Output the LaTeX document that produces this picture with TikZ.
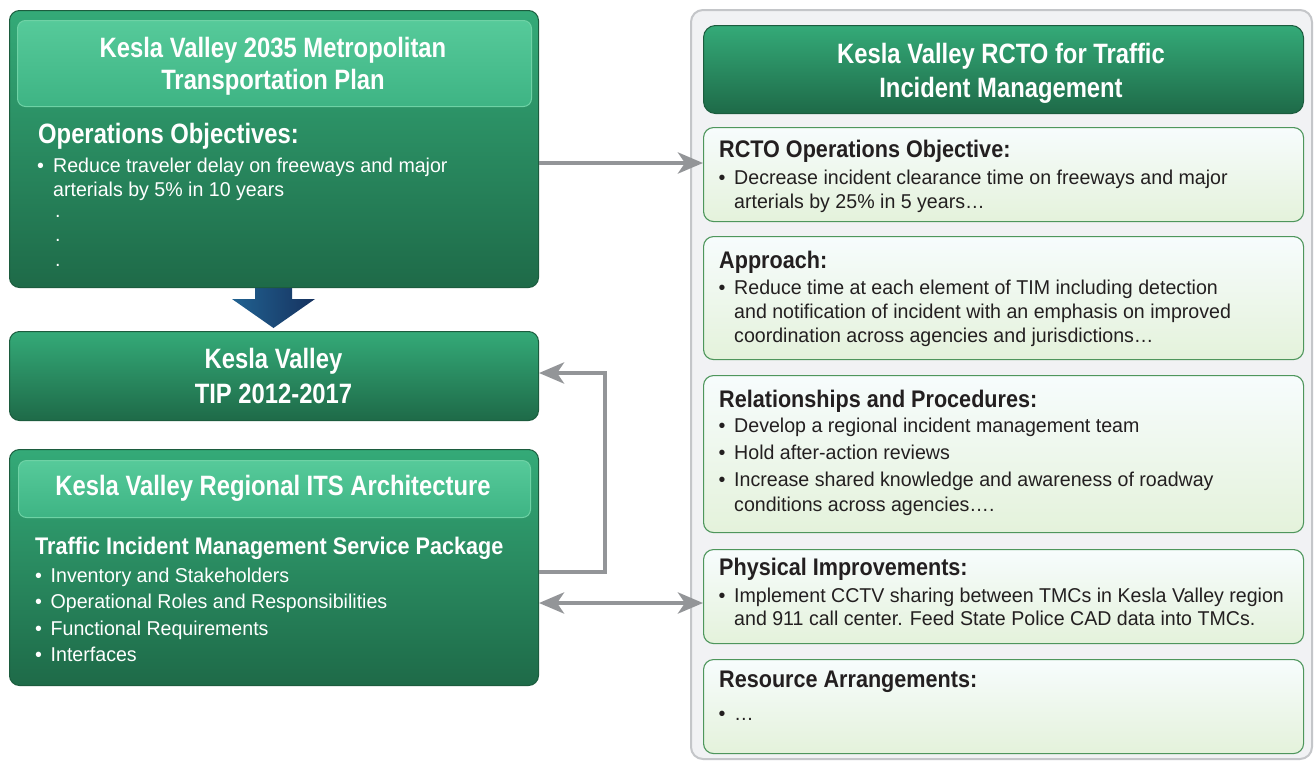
\documentclass[tikz,border=0pt]{standalone}
\usepackage{fontspec}
\setmainfont{Liberation Sans}
\newfontfamily\fA{Liberation Sans}[FakeStretch=0.85]
\newfontfamily\fB{Liberation Sans}[FakeStretch=0.9]
\newfontfamily\fC{Liberation Sans}[FakeStretch=0.98]
\usetikzlibrary{arrows.meta}
\definecolor{gtop}{RGB}{52,170,120}
\definecolor{gbot}{RGB}{30,106,72}
\definecolor{gline}{RGB}{28,92,62}
\definecolor{htop}{RGB}{86,202,154}
\definecolor{hbot}{RGB}{62,180,132}
\definecolor{hline}{RGB}{110,210,165}
\definecolor{ltop}{RGB}{247,252,253}
\definecolor{lbot}{RGB}{228,242,219}
\definecolor{lline}{RGB}{78,150,92}
\definecolor{pfill}{RGB}{241,242,244}
\definecolor{pline}{RGB}{196,198,201}
\definecolor{agray}{RGB}{147,149,152}
\definecolor{bleft}{RGB}{33,98,145}
\definecolor{bright}{RGB}{22,50,95}
\definecolor{ink}{RGB}{35,31,32}
\tikzset{
  dbox/.style={draw=gline, line width=1pt, rounded corners=10pt, top color=gtop, bottom color=gbot, anchor=north west, inner sep=0pt},
  hbox/.style={draw=hline, line width=1pt, rounded corners=8pt, top color=htop, bottom color=hbot, anchor=north west, inner sep=0pt},
  lbox/.style={draw=lline, line width=1.1pt, rounded corners=10pt, top color=ltop, bottom color=lbot, anchor=north west, inner sep=0pt},
  ttl/.style={font=\fA\bfseries\fontsize{28}{34}\selectfont, text=white, inner sep=0pt, anchor=base},
  whead/.style={font=\fB\bfseries\fontsize{24}{28}\selectfont, text=white, inner sep=0pt, anchor=base west},
  bhead/.style={font=\fB\bfseries\fontsize{24}{28}\selectfont, text=ink, inner sep=0pt, anchor=base west},
  wbody/.style={font=\fC\fontsize{20}{24}\selectfont, text=white, inner sep=0pt, anchor=base west},
  bbody/.style={font=\fC\fontsize{20}{24}\selectfont, text=ink, inner sep=0pt, anchor=base west},
  garrow/.style={draw=agray, line width=4.5pt, line join=miter, -{Stealth[length=25pt,width=21pt,inset=7pt]}},
  gdarrow/.style={draw=agray, line width=4.5pt, {Stealth[length=25pt,width=21pt,inset=7pt]}-{Stealth[length=25pt,width=21pt,inset=7pt]}}
}
\begin{document}
\begin{tikzpicture}[x=1pt,y=-1pt]
\useasboundingbox[fill=white] (0,0) rectangle (1314,761);

% right panel
\node[draw=pline, line width=2pt, fill=pfill, rounded corners=12pt, anchor=north west, inner sep=0pt,
      minimum width=621pt, minimum height=749pt] (panel) at (690,9) {};

% blue block arrow
\shade[left color=bleft, right color=bright] (255,283) -- (292,283) -- (292,299) -- (315,299) -- (273.5,328) -- (232,299) -- (255,299) -- cycle;

% left boxes
\node[dbox, minimum width=529pt, minimum height=277pt] (mtp) at (9,10) {};
\node[hbox, minimum width=514pt, minimum height=86pt] (mtph) at (17,20) {};
\node[dbox, minimum width=529pt, minimum height=89pt] (tip) at (9,331) {};
\node[dbox, minimum width=529pt, minimum height=236pt] (its) at (9,449) {};
\node[hbox, minimum width=512pt, minimum height=57pt] (itsh) at (18,460) {};

% right boxes
\node[dbox, rounded corners=12pt, minimum width=600pt, minimum height=88pt] (rcto) at (703,25) {};
\node[lbox, minimum width=600pt, minimum height=94pt] (obj) at (703,127) {};
\node[lbox, minimum width=600pt, minimum height=123pt] (appr) at (703,236) {};
\node[lbox, minimum width=600pt, minimum height=157pt] (rel) at (703,375) {};
\node[lbox, minimum width=600pt, minimum height=94pt] (phys) at (703,549) {};
\node[lbox, minimum width=600pt, minimum height=94pt] (res) at (703,659) {};

% MTP text
\node[ttl] (mtpT1) at (273,57) {Kesla Valley 2035 Metropolitan};
\node[ttl] (mtpT2) at (273,89) {Transportation Plan};
\node[ttl, anchor=base west] (mtpH) at (38,143) {Operations Objectives:};
\node[wbody] (mtpB1) at (37,172) {•};
\node[wbody] (mtpL1) at (53,172) {Reduce traveler delay on freeways and major};
\node[wbody] (mtpL2) at (53,196) {arterials by 5\% in 10 years};
\node[wbody] (mtpD1) at (55,217) {.};
\node[wbody] (mtpD2) at (55,241) {.};
\node[wbody] (mtpD3) at (55,266) {.};

% TIP text
\node[ttl] (tipT1) at (273.5,368) {Kesla Valley};
\node[ttl] (tipT2) at (273.5,403) {TIP 2012-2017};

% ITS text
\node[ttl] (itsT) at (273,495) {Kesla Valley Regional ITS Architecture};
\node[whead] (itsH) at (35,554) {Traffic Incident Management Service Package};
\node[wbody] (itsB1) at (35,582) {•};
\node[wbody] (itsL1) at (50.5,582) {Inventory and Stakeholders};
\node[wbody] (itsB2) at (35,608) {•};
\node[wbody] (itsL2) at (50.5,608) {Operational Roles and Responsibilities};
\node[wbody] (itsB3) at (35,635) {•};
\node[wbody] (itsL3) at (50.5,635) {Functional Requirements};
\node[wbody] (itsB4) at (35,661) {•};
\node[wbody] (itsL4) at (50.5,661) {Interfaces};

% RCTO text
\node[ttl] (rctoT1) at (1001,63) {Kesla Valley RCTO for Traffic};
\node[ttl] (rctoT2) at (1001,97) {Incident Management};

\node[bhead] (objH) at (719,157) {RCTO Operations Objective:};
\node[bbody] (objB1) at (718.5,184) {•};
\node[bbody] (objL1) at (734,184) {Decrease incident clearance time on freeways and major};
\node[bbody] (objL2) at (734,208) {arterials by 25\% in 5 years…};

\node[bhead] (apprH) at (719,268) {Approach:};
\node[bbody] (apprB1) at (718.5,294) {•};
\node[bbody] (apprL1) at (734,294) {Reduce time at each element of TIM including detection};
\node[bbody] (apprL2) at (734,318) {and notification of incident with an emphasis on improved};
\node[bbody] (apprL3) at (734,342) {coordination across agencies and jurisdictions…};

\node[bhead] (relH) at (719,407) {Relationships and Procedures:};
\node[bbody] (relB1) at (718.5,432) {•};
\node[bbody] (relL1) at (734,432) {Develop a regional incident management team};
\node[bbody] (relB2) at (718.5,459) {•};
\node[bbody] (relL2) at (734,459) {Hold after-action reviews};
\node[bbody] (relB3) at (718.5,486) {•};
\node[bbody] (relL3) at (734,486) {Increase shared knowledge and awareness of roadway};
\node[bbody] (relL4) at (734,511) {conditions across agencies….};

\node[bhead] (physH) at (719,575) {Physical Improvements:};
\node[bbody] (physB1) at (718.5,602) {•};
\node[bbody] (physL1) at (734,602) {Implement CCTV sharing between TMCs in Kesla Valley region};
\node[bbody] (physL2) at (734,625) {and 911 call center. Feed State Police CAD data into TMCs.};

\node[bhead] (resH) at (719,687) {Resource Arrangements:};
\node[bbody] (resB1) at (718.5,720) {•};
\node[bbody] (resL1) at (734,720) {…};

% connectors
\draw[garrow] (mtp.east |- 0,163) -- (obj.west |- 0,163);
\draw[garrow] (its.east |- 0,572) -- (605,572) |- (tip.east |- 0,373);
\draw[gdarrow] (its.east |- 0,603) -- (phys.west |- 0,603);
\end{tikzpicture}
\end{document}
